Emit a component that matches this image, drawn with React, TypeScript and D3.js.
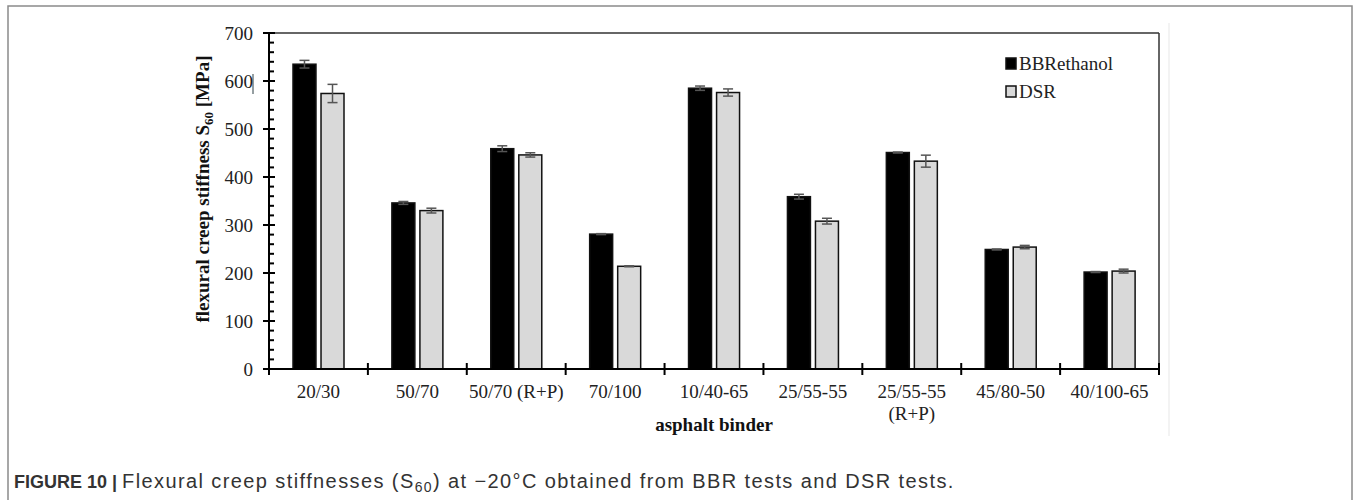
import React from "react";
import * as d3 from "d3";

// Asphalt binders tested
const binders: string[][] = [
  ["20/30"],
  ["50/70"],
  ["50/70 (R+P)"],
  ["70/100"],
  ["10/40-65"],
  ["25/55-55"],
  ["25/55-55", "(R+P)"],
  ["45/80-50"],
  ["40/100-65"],
];
const seriesNames = ["BBRethanol", "DSR"];

// Flexural creep stiffness S60 [MPa] and standard deviations
const bbrValues = [635, 346, 459, 281, 585, 359, 451, 249, 202];
const bbrErrors = [8, 3, 6, 1, 4.5, 5, 1, 1, 1];
const dsrValues = [574, 330, 446, 214, 576, 308, 433, 254, 204];
const dsrErrors = [19, 5, 4.5, 1, 7.5, 6, 12.5, 3.5, 4];

const yTicks = [0, 100, 200, 300, 400, 500, 600, 700];
const yMinorTicks = d3.range(0, 701, 20);

const W = 1356;
const H = 500;
const plot = { left: 269, right: 1159, top: 33, bottom: 369 };
const serif = "'Liberation Serif', 'Times New Roman', serif";
const sans = "'Liberation Sans', Arial, sans-serif";

export default function App() {
  const keys = binders.map((b) => b.join(" "));
  const x = d3.scaleBand<string>().domain(keys).range([plot.left, plot.right]).padding(0);
  const inner = d3
    .scaleBand<string>()
    .domain(seriesNames)
    .range([24, 75])
    .paddingInner(0.18)
    .paddingOuter(0);
  const y = d3.scaleLinear().domain([0, 700]).range([plot.bottom, plot.top]);

  const series = [
    { name: seriesNames[0], values: bbrValues, errors: bbrErrors, fill: "#000000" },
    { name: seriesNames[1], values: dsrValues, errors: dsrErrors, fill: "#d9d9d9" },
  ];

  const bw = inner.bandwidth();
  const boundaries = [...keys.map((k) => x(k)!), plot.right];

  return (
    <svg width={W} height={H} style={{ display: "block", position: "absolute", left: 0, top: 0 }}>
      <rect x={0} y={0} width={W} height={H} fill="#ffffff" />
      {/* outer figure frame */}
      <rect x={8} y={6} width={1344} height={520} fill="none" stroke="#8a8a8a" strokeWidth={1.5} />
      <line x1={1169} x2={1169} y1={23} y2={436} stroke="#efefef" strokeWidth={1.5} />

      {/* plot area border */}
      <line x1={plot.left} x2={plot.right} y1={plot.top} y2={plot.top} stroke="#333" strokeWidth={1.5} />
      <line x1={plot.right} x2={plot.right} y1={plot.top} y2={plot.bottom} stroke="#333" strokeWidth={1.5} />

      {/* bars */}
      {series.map((s) =>
        s.values.map((v, i) => {
          const bx = x(keys[i])! + inner(s.name)!;
          return (
            <rect
              key={s.name + i}
              x={bx}
              y={y(v)}
              width={bw}
              height={y(0) - y(v)}
              fill={s.fill}
              stroke="#111"
              strokeWidth={1.5}
            />
          );
        })
      )}

      {/* error bars */}
      {series.map((s) =>
        s.values.map((v, i) => {
          const cx = x(keys[i])! + inner(s.name)! + bw / 2;
          const y1 = y(v + s.errors[i]);
          const y2 = y(v - s.errors[i]);
          return (
            <g key={"e" + s.name + i} stroke="#555" strokeWidth={1.5}>
              <line x1={cx} x2={cx} y1={y1} y2={y2} />
              <line x1={cx - 5} x2={cx + 5} y1={y1} y2={y1} />
              <line x1={cx - 5} x2={cx + 5} y1={y2} y2={y2} />
            </g>
          );
        })
      )}

      {/* y axis */}
      <line x1={plot.left} x2={plot.left} y1={plot.top} y2={plot.bottom + 1} stroke="#000" strokeWidth={2} />
      {yMinorTicks.map((t) => (
        <line key={"m" + t} x1={plot.left} x2={plot.left + 5} y1={y(t)} y2={y(t)} stroke="#000" strokeWidth={2} />
      ))}
      {yTicks.map((t) => (
        <g key={"t" + t}>
          <line x1={plot.left - 6} x2={plot.left + 6} y1={y(t)} y2={y(t)} stroke="#000" strokeWidth={2} />
          <text
            x={253}
            y={y(t) + 6.5}
            textAnchor="end"
            fontFamily={serif}
            fontSize={19}
            fill="#222"
          >
            {t}
          </text>
        </g>
      ))}
      <line x1={253} x2={253} y1={74} y2={94} stroke="#2c3e45" strokeWidth={1} />

      {/* x axis */}
      <line x1={plot.left} x2={plot.right} y1={plot.bottom} y2={plot.bottom} stroke="#000" strokeWidth={2} />
      {boundaries.map((b, i) => (
        <line key={"xb" + i} x1={b} x2={b} y1={plot.bottom - 6} y2={plot.bottom + 6} stroke="#000" strokeWidth={2} />
      ))}
      {binders.map((lines, i) => (
        <text
          key={"xl" + i}
          x={x(keys[i])! + x.bandwidth() / 2}
          y={398}
          textAnchor="middle"
          fontFamily={serif}
          fontSize={19}
          fill="#222"
        >
          {lines.map((l, j) => (
            <tspan key={j} x={x(keys[i])! + x.bandwidth() / 2} dy={j === 0 ? 0 : 22}>
              {l}
            </tspan>
          ))}
        </text>
      ))}

      {/* axis titles */}
      <text
        x={(plot.left + plot.right) / 2}
        y={431}
        textAnchor="middle"
        fontFamily={serif}
        fontSize={19}
        fontWeight="bold"
        fill="#111"
      >
        asphalt binder
      </text>
      <text
        transform={`translate(209, 189) rotate(-90)`}
        textAnchor="middle"
        fontFamily={serif}
        fontSize={19}
        fontWeight="bold"
        fill="#111"
      >
        flexural creep stiffness S
        <tspan fontSize={13} dy={4}>60</tspan>
        <tspan dy={-4}> [MPa]</tspan>
      </text>

      {/* legend */}
      {series.map((s, i) => (
        <g key={"lg" + i}>
          <rect x={1006} y={58 + i * 28} width={10} height={11} fill={s.fill} stroke="#111" strokeWidth={1.5} />
          <text x={1019} y={70 + i * 28} fontFamily={serif} fontSize={19} fill="#222">
            {s.name}
          </text>
        </g>
      ))}

      {/* caption */}
      <text x={14} y={488} fontFamily={sans} fontSize={18} fill="#333">
        <tspan fontWeight="bold">FIGURE 10 | </tspan>
        <tspan fontSize={20} letterSpacing={1.4}>Flexural creep stiffnesses (S</tspan>
        <tspan fontSize={14} dy={4} letterSpacing={1.4}>60</tspan>
        <tspan fontSize={20} dy={-4} letterSpacing={1.4}>) at −20°C obtained from BBR tests and DSR tests.</tspan>
      </text>
    </svg>
  );
}
